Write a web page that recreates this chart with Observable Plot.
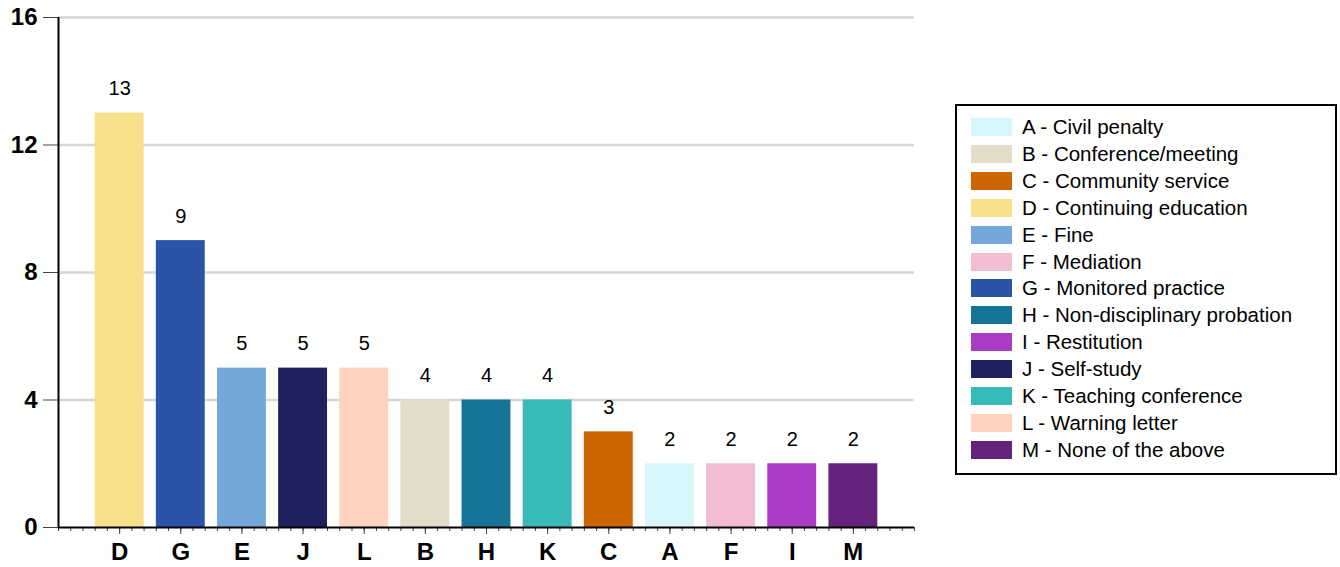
<!DOCTYPE html>
<html>
<head>
<meta charset="utf-8">
<script src="https://cdn.jsdelivr.net/npm/d3@7"></script>
<script src="https://cdn.jsdelivr.net/npm/@observablehq/plot@0.6"></script>
<style>
  html, body { margin: 0; padding: 0; background: #fff; }
  body { width: 1340px; height: 567px; position: relative; overflow: hidden; font-family: "Liberation Sans", Arial, sans-serif; }
  #chart { position: absolute; left: 0; top: 0; }
  #chart g[aria-label="y-axis tick label"] text,
  #chart g[aria-label="x-axis tick label"] text { font-size: 24px !important; font-weight: bold; }
  #legend { position: absolute; left: 955px; top: 104px; width: 378px; height: 367px; border: 2px solid #000; box-sizing: content-box; }
  .row { position: absolute; left: 14px; height: 18px; display: flex; align-items: center; }
  .sw { width: 41px; height: 18px; margin-right: 10px; flex: none; }
  .lb { font-size: 20.5px; color: #000; white-space: nowrap; line-height: 18px; }
</style>
</head>
<body>
<div id="chart"></div>
<div id="legend"></div>
<script>
// Bars in the order drawn (sorted by count)
const barCategories = ["D", "G", "E", "J", "L", "B", "H", "K", "C", "A", "F", "I", "M"];
const barValues     = [13, 9, 5, 5, 5, 4, 4, 4, 3, 2, 2, 2, 2];

// Legend (alphabetical)
const legendCategories = ["A", "B", "C", "D", "E", "F", "G", "H", "I", "J", "K", "L", "M"];
const legendNames = [
  "Civil penalty", "Conference/meeting", "Community service", "Continuing education",
  "Fine", "Mediation", "Monitored practice", "Non-disciplinary probation",
  "Restitution", "Self-study", "Teaching conference", "Warning letter", "None of the above"
];
const legendColors = [
  "#d7f6fb", "#e3dccb", "#cc6600", "#f8df8a", "#74a7da", "#f2bcd2", "#2b54a8",
  "#167596", "#aa3bc4", "#1e215e", "#38bab8", "#ffd3bd", "#63237c"
];

const yTicks = [0, 4, 8, 12, 16];

const data = barCategories.map((c, i) => ({cat: c, value: barValues[i], pos: i + 1}));
const minorTicks = d3.range(0, 70 + 1).map(k => k / 5);
const majorTicks = data.map(d => d.pos);

const plot = Plot.plot({
  width: 1340,
  height: 567,
  marginLeft: 58,
  marginRight: 426,
  marginTop: 17,
  marginBottom: 40,
  style: {fontFamily: "'Liberation Sans', Arial, sans-serif", background: "transparent", overflow: "visible"},
  x: {type: "linear", domain: [0, 14]},
  y: {domain: [0, 16]},
  color: {domain: legendCategories, range: legendColors},
  marks: [
    Plot.ruleY(yTicks.filter(t => t > 0), {stroke: "#d6d6d6", strokeWidth: 2.5}),
    Plot.rectY(data, {x1: d => d.pos - 0.4, x2: d => d.pos + 0.4, y: "value", fill: "cat"}),
    Plot.text(data, {x: "pos", y: "value", text: d => String(d.value), dy: -18, lineAnchor: "bottom", fontSize: 20, fill: "#000"}),
    Plot.axisY({ticks: yTicks, tickSize: 15, tickPadding: 6, fontSize: 24, fontWeight: "bold", stroke: "#444", fill: "#000", label: null}),
    Plot.axisX({ticks: minorTicks, tickSize: 4, text: null, stroke: "#444", label: null}),
    Plot.axisX({ticks: majorTicks, tickSize: 7, tickPadding: 8, tickFormat: p => barCategories[p - 1], fontSize: 24, fontWeight: "bold", stroke: "#444", fill: "#000", label: null}),
    Plot.ruleX([0], {y1: 0, y2: 16, stroke: "#000", strokeWidth: 2}),
    Plot.ruleY([0], {stroke: "#000", strokeWidth: 2})
  ]
});
document.getElementById("chart").appendChild(plot);

const legend = document.getElementById("legend");
legendCategories.forEach((c, i) => {
  const row = document.createElement("div");
  row.className = "row";
  row.style.top = (12 + i * 26.9) + "px";
  const sw = document.createElement("div");
  sw.className = "sw";
  sw.style.background = legendColors[i];
  const lb = document.createElement("div");
  lb.className = "lb";
  lb.textContent = c + " - " + legendNames[i];
  row.appendChild(sw);
  row.appendChild(lb);
  legend.appendChild(row);
});
</script>
</body>
</html>
